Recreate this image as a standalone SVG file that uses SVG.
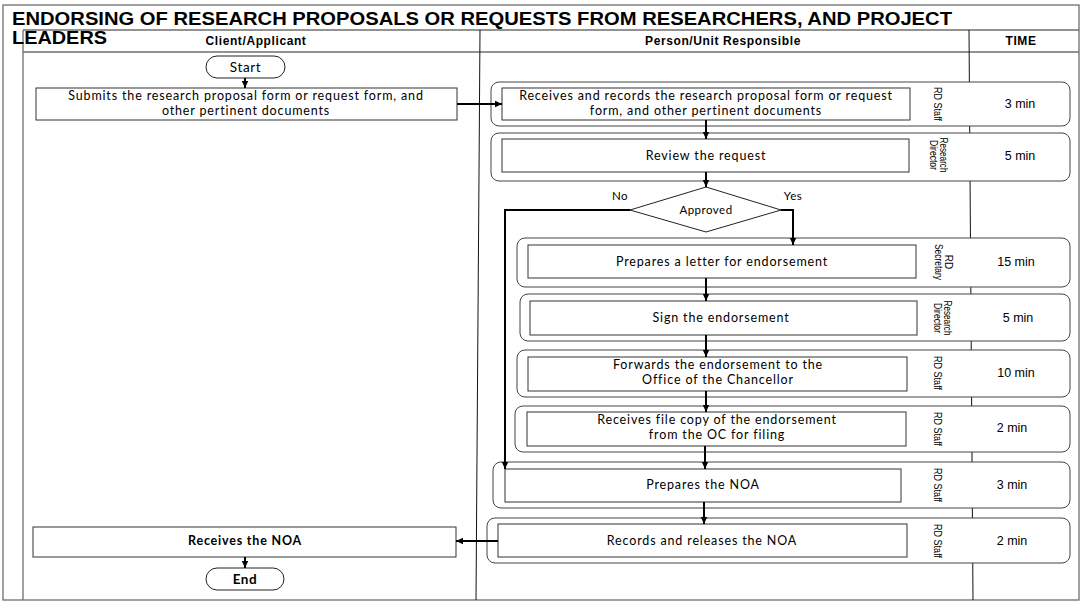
<svg xmlns="http://www.w3.org/2000/svg" width="1082" height="604" viewBox="0 0 1082 604">
<defs>
<marker id="ah" markerWidth="8" markerHeight="8" refX="7" refY="4" orient="auto" markerUnits="userSpaceOnUse">
<path d="M0,0.8 L7,4 L0,7.2 Z" fill="#000"/>
</marker>
<style>
.frame{fill:none;stroke:#6e6e6e;stroke-width:1.3}
.div{fill:none;stroke:#111;stroke-width:1}
.outer{fill:#fff;stroke:#444;stroke-width:1}
.inner{fill:#fff;stroke:#333;stroke-width:1}
.term{fill:#fff;stroke:#222;stroke-width:1}
.conn{fill:none;stroke:#000;stroke-width:2}
.title{font-family:"Liberation Sans",Arial,sans-serif;font-weight:bold;font-size:18px;fill:#000}
.hdr{font-family:"Liberation Sans",Arial,sans-serif;font-weight:bold;font-size:12px;letter-spacing:0.6px;fill:#000;text-anchor:middle}
.t{font-family:Lato,"Open Sans",sans-serif;font-size:12.5px;letter-spacing:0.85px;fill:#000;text-anchor:middle}
.tb{font-family:Lato,"Open Sans",sans-serif;font-size:12.5px;letter-spacing:0.8px;font-weight:bold;fill:#000;text-anchor:middle}
.term-t{font-family:Lato,"Open Sans",sans-serif;font-size:13.5px;letter-spacing:0.6px;fill:#000;text-anchor:middle}
.rot{font-family:"Liberation Sans",Arial,sans-serif;font-size:10px;fill:#000;text-anchor:middle}
.time{font-family:"Liberation Sans",Arial,sans-serif;font-size:12.5px;fill:#000;text-anchor:middle}
.lbl{font-family:Lato,"Open Sans",sans-serif;font-size:11.5px;letter-spacing:0.5px;fill:#000;text-anchor:middle}
</style>
</defs>
<rect width="1082" height="604" fill="#fff"/>

<g id="frame">
<rect class="frame" x="3" y="5" width="1076" height="595"/>
<line class="frame" x1="23" y1="30" x2="23" y2="600"/>
<line class="frame" x1="23" y1="30" x2="1079" y2="30"/>
<line class="frame" x1="23" y1="52" x2="1079" y2="52"/>
<line class="div" x1="480" y1="30" x2="476" y2="600"/>
<line class="div" x1="969" y1="30" x2="973" y2="600"/>
<text class="title" x="12" y="25" textLength="940" lengthAdjust="spacingAndGlyphs">ENDORSING OF RESEARCH PROPOSALS OR REQUESTS FROM RESEARCHERS, AND PROJECT</text>
<text class="title" x="12" y="44" textLength="95" lengthAdjust="spacingAndGlyphs">LEADERS</text>
<text class="hdr" x="256" y="45">Client/Applicant</text>
<text class="hdr" x="723" y="45">Person/Unit Responsible</text>
<text class="hdr" x="1021" y="45">TIME</text>
</g>

<g id="start">
<rect class="term" x="206" y="56" width="79" height="22" rx="11"/>
<text class="term-t" x="245.5" y="72">Start</text>
</g>

<g id="submit">
<rect class="inner" x="36" y="88" width="421" height="32"/>
<text class="t" x="246" y="100">Submits the research proposal form or request form, and</text>
<text class="t" x="246" y="115">other pertinent documents</text>
</g>

<g id="receives">
<rect class="outer" x="491" y="82" width="579" height="44" rx="8"/>
<rect class="inner" x="502" y="88" width="408" height="32"/>
<text class="t" x="706" y="100">Receives and records the research proposal form or request</text>
<text class="t" x="706" y="115">form, and other pertinent documents</text>
<text class="rot" transform="translate(934,104) rotate(90)" textLength="34" lengthAdjust="spacingAndGlyphs">RD Staff</text>
<text class="time" x="1020" y="108">3 min</text>
</g>

<g id="review">
<rect class="outer" x="491" y="133" width="579" height="48" rx="8"/>
<rect class="inner" x="502" y="139" width="407" height="33"/>
<text class="t" x="706" y="160">Review the request</text>
<text class="rot" transform="translate(940,155) rotate(90)" textLength="35" lengthAdjust="spacingAndGlyphs">Research</text>
<text class="rot" transform="translate(930,155) rotate(90)" textLength="30" lengthAdjust="spacingAndGlyphs">Director</text>
<text class="time" x="1020" y="160">5 min</text>
</g>

<g id="approved">
<polygon class="term" points="706,187 781,210 706,232 630,210"/>
<text class="lbl" x="706" y="214">Approved</text>
</g>

<g id="letter">
<rect class="outer" x="517" y="238" width="553" height="49" rx="8"/>
<rect class="inner" x="528" y="245" width="388" height="33"/>
<text class="t" x="722" y="266">Prepares a letter for endorsement</text>
<text class="rot" transform="translate(945,262) rotate(90)">RD</text>
<text class="rot" transform="translate(935,262) rotate(90)" textLength="36" lengthAdjust="spacingAndGlyphs">Secretary</text>
<text class="time" x="1016" y="266">15 min</text>
</g>

<g id="sign">
<rect class="outer" x="520" y="294" width="550" height="47" rx="8"/>
<rect class="inner" x="530" y="301" width="387" height="34"/>
<text class="t" x="721" y="322">Sign the endorsement</text>
<text class="rot" transform="translate(944,318) rotate(90)" textLength="35" lengthAdjust="spacingAndGlyphs">Research</text>
<text class="rot" transform="translate(934,318) rotate(90)" textLength="30" lengthAdjust="spacingAndGlyphs">Director</text>
<text class="time" x="1018" y="322">5 min</text>
</g>

<g id="forwards">
<rect class="outer" x="517" y="350" width="553" height="47" rx="8"/>
<rect class="inner" x="528" y="357" width="379" height="34"/>
<text class="t" x="718" y="369">Forwards the endorsement to the</text>
<text class="t" x="718" y="384">Office of the Chancellor</text>
<text class="rot" transform="translate(934,373) rotate(90)" textLength="34" lengthAdjust="spacingAndGlyphs">RD Staff</text>
<text class="time" x="1016" y="377">10 min</text>
</g>

<g id="filecopy">
<rect class="outer" x="515" y="406" width="555" height="46" rx="8"/>
<rect class="inner" x="527" y="412" width="379" height="34"/>
<text class="t" x="717" y="424">Receives file copy of the endorsement</text>
<text class="t" x="717" y="439">from the OC for filing</text>
<text class="rot" transform="translate(934,429) rotate(90)" textLength="34" lengthAdjust="spacingAndGlyphs">RD Staff</text>
<text class="time" x="1012" y="432">2 min</text>
</g>

<g id="noa">
<rect class="outer" x="493" y="462" width="577" height="46" rx="8"/>
<rect class="inner" x="505" y="469" width="396" height="33"/>
<text class="t" x="703" y="489">Prepares the NOA</text>
<text class="rot" transform="translate(934,485) rotate(90)" textLength="34" lengthAdjust="spacingAndGlyphs">RD Staff</text>
<text class="time" x="1012" y="489">3 min</text>
</g>

<g id="records">
<rect class="outer" x="487" y="518" width="583" height="45" rx="8"/>
<rect class="inner" x="498" y="524" width="409" height="33"/>
<text class="t" x="702" y="545">Records and releases the NOA</text>
<text class="rot" transform="translate(934,541) rotate(90)" textLength="34" lengthAdjust="spacingAndGlyphs">RD Staff</text>
<text class="time" x="1012" y="545">2 min</text>
</g>

<g id="receivesnoa">
<rect class="inner" x="33" y="527" width="423" height="30"/>
<text class="tb" x="245" y="545">Receives the NOA</text>
</g>

<g id="end">
<rect class="term" x="206" y="568" width="78" height="22" rx="11"/>
<text class="term-t" x="245" y="584" font-weight="bold">End</text>
</g>

<g id="connectors">
<line class="conn" x1="245" y1="78" x2="245" y2="88" marker-end="url(#ah)" stroke-width="1.5"/>
<line class="conn" x1="457" y1="104" x2="502" y2="104" marker-end="url(#ah)"/>
<line class="conn" x1="706" y1="120" x2="706" y2="139" marker-end="url(#ah)"/>
<line class="conn" x1="706" y1="172" x2="706" y2="187" marker-end="url(#ah)"/>
<polyline class="conn" points="781,210 793,210 793,245" marker-end="url(#ah)"/>
<polyline class="conn" points="630,210 505,210 505,469" marker-end="url(#ah)"/>
<line class="conn" x1="706" y1="278" x2="706" y2="301" marker-end="url(#ah)"/>
<line class="conn" x1="706" y1="335" x2="706" y2="357" marker-end="url(#ah)"/>
<line class="conn" x1="706" y1="391" x2="706" y2="412" marker-end="url(#ah)"/>
<line class="conn" x1="705" y1="446" x2="705" y2="469" marker-end="url(#ah)"/>
<line class="conn" x1="704" y1="502" x2="704" y2="524" marker-end="url(#ah)"/>
<line class="conn" x1="498" y1="541" x2="456" y2="541" marker-end="url(#ah)"/>
<line class="conn" x1="245" y1="557" x2="245" y2="568" marker-end="url(#ah)" stroke-width="1.5"/>
<text class="lbl" x="620" y="200">No</text>
<text class="lbl" x="793" y="200">Yes</text>
</g>
</svg>
